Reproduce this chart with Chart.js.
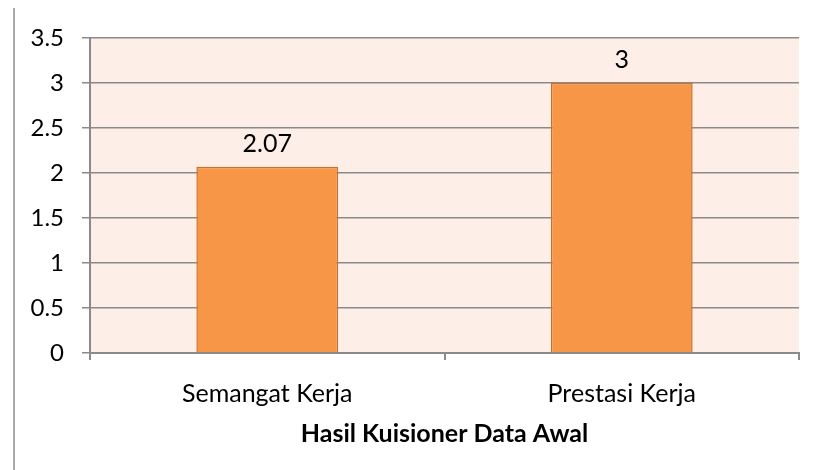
<!DOCTYPE html>
<html>
<head>
<meta charset="utf-8">
<script src="https://cdn.jsdelivr.net/npm/chart.js@4/dist/chart.umd.min.js"></script>
<style>
    html, body { margin: 0; padding: 0; background: #ffffff; }
    .page { position: relative; width: 814px; height: 470px; }
    .page-rule { position: absolute; left: 13px; top: 8px; bottom: 0; border-left: 2px solid #a9a9a9; }
    canvas { position: absolute; left: 0; top: 0; }
</style>
</head>
<body>
<div class="page">
    <div class="page-rule"></div>
    <canvas id="chart" width="814" height="470"></canvas>
</div>
<script>
const categories = ["Semangat Kerja", "Prestasi Kerja"];
const scores = [2.07, 3];
const yTicks = [0, 0.5, 1, 1.5, 2, 2.5, 3, 3.5];
const chartTitle = "Hasil Kuisioner Data Awal";

const FONT = "Lato, 'Open Sans', sans-serif";

const plotBackground = {
    id: "plotBackground",
    beforeDraw(chart) {
        const { ctx, chartArea } = chart;
        ctx.save();
        ctx.fillStyle = "#fdeee8";
        ctx.fillRect(chartArea.left, chartArea.top, chartArea.right - chartArea.left, chartArea.bottom - chartArea.top);
        ctx.restore();
    }
};

const valueLabels = {
    id: "valueLabels",
    afterDatasetsDraw(chart) {
        const { ctx } = chart;
        const meta = chart.getDatasetMeta(0);
        ctx.save();
        ctx.font = "25px " + FONT;
        ctx.fillStyle = "#000000";
        ctx.textAlign = "center";
        ctx.textBaseline = "middle";
        meta.data.forEach((bar, i) => {
            ctx.fillText(String(scores[i]), bar.x, bar.y - 23);
        });
        ctx.restore();
    }
};

new Chart(document.getElementById("chart"), {
    type: "bar",
    data: {
        labels: categories,
        datasets: [{
            data: scores,
            backgroundColor: "#f79646",
            borderColor: "#c9712c",
            borderWidth: 1.5,
            barPercentage: 0.4,
            categoryPercentage: 1
        }]
    },
    options: {
        responsive: false,
        animation: false,
        layout: {
            padding: { left: 0, right: 15, top: 38, bottom: 0 }
        },
        plugins: {
            legend: { display: false },
            tooltip: { enabled: false }
        },
        scales: {
            x: {
                grid: {
                    drawOnChartArea: false,
                    drawTicks: true,
                    tickLength: 7,
                    color: "#8a8a8a",
                    lineWidth: 2
                },
                border: { color: "#8a8a8a", width: 2 },
                ticks: {
                    color: "#000000",
                    padding: 19,
                    font: { family: FONT, size: 25 }
                },
                title: {
                    display: true,
                    text: chartTitle,
                    color: "#000000",
                    font: { family: FONT, size: 25, weight: "bold" },
                    padding: { top: 0, bottom: 21 }
                },
                afterFit(scale) {
                    scale.height = 117;
                }
            },
            y: {
                min: 0,
                max: 3.5,
                grid: {
                    color: "#8a8a8a",
                    lineWidth: 1.5,
                    tickLength: 8
                },
                border: { color: "#8a8a8a", width: 2 },
                ticks: {
                    color: "#000000",
                    padding: 18,
                    font: { family: FONT, size: 24 },
                    callback: (value) => yTicks.includes(value) ? String(value) : null
                },
                afterBuildTicks(scale) {
                    scale.ticks = yTicks.map(v => ({ value: v }));
                },
                afterFit(scale) {
                    scale.width = 90;
                }
            }
        }
    },
    plugins: [plotBackground, valueLabels]
});
</script>
</body>
</html>
